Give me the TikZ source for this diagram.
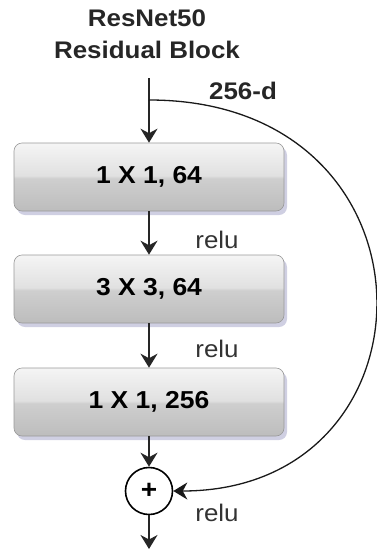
\documentclass[tikz,border=0pt]{standalone}
\usepackage{fontspec}
\setmainfont{Liberation Sans}[FakeStretch=1.08]
\usetikzlibrary{arrows.meta,shadows}

\pgfdeclareverticalshading{gloss}{100bp}{color(0bp)=(black!26); color(25bp)=(black!26);
  color(49bp)=(black!19); color(51bp)=(black!12); color(75bp)=(black!4); color(100bp)=(black!4)}

\begin{document}
\begin{tikzpicture}[x=1pt,y=-1pt,>={Stealth[length=14pt,width=17pt,inset=4.5pt]}]

\def\bw{270pt}
\def\bh{68pt}
\tikzstyle{block} = [
	draw=black!40, line width=.6pt, shading=gloss, rectangle, rounded corners=8pt,
	minimum height=\bh, minimum width=\bw,
	font=\fontsize{24.5}{28}\selectfont\bfseries,
	drop shadow={shadow xshift=3pt, shadow yshift=-4pt, fill=blue!25!gray, opacity=.3} ];
\tikzstyle{plain} = [draw=none,fill=none,inner sep=0pt];
\tikzstyle{lbl} = [plain,font=\fontsize{24}{28}\selectfont,text=black!80];
\tikzstyle{link} = [->,line width=1.6pt,black!85];
\useasboundingbox (0,0) rectangle (377,555);

\node[plain,align=center,font=\fontsize{24}{32}\selectfont\bfseries,text=black!85] (title) at (147,34) {ResNet50\\Residual Block};
\node[plain,font=\fontsize{24}{28}\selectfont\bfseries,text=black!85] (dim) at (243,91) {256-d};

\node[block] (b1) at (149,177) { 1 X 1, 64 };
\node[block] (b2) at (149,289) { 3 X 3, 64 };
\node[block] (b3) at (149,402) { 1 X 1, 256 };
\node[circle,draw,line width=1.6pt,fill=white,minimum size=47pt,inner sep=0pt,
      font=\fontsize{26}{28}\selectfont\bfseries] (add) at (149,491) {+};

\node[lbl] (r1) at (217,240) {relu};
\node[lbl] (r2) at (217,349) {relu};
\node[lbl] (r3) at (217,513) {relu};

\coordinate (in) at (149,78);
\coordinate (split) at (149,100);
\coordinate (out) at (149,549);

\draw[link] (in) -- (b1.north);
\draw[link] (b1) -- (b2);
\draw[link] (b2) -- (b3);
\draw[link] (b3) -- (add);
\draw[link] (add) -- (out);
\draw[->,line width=1.3pt,black!90] (split) .. controls +(300,0) and +(272,0) .. (add.east);

\end{tikzpicture}
\end{document}
